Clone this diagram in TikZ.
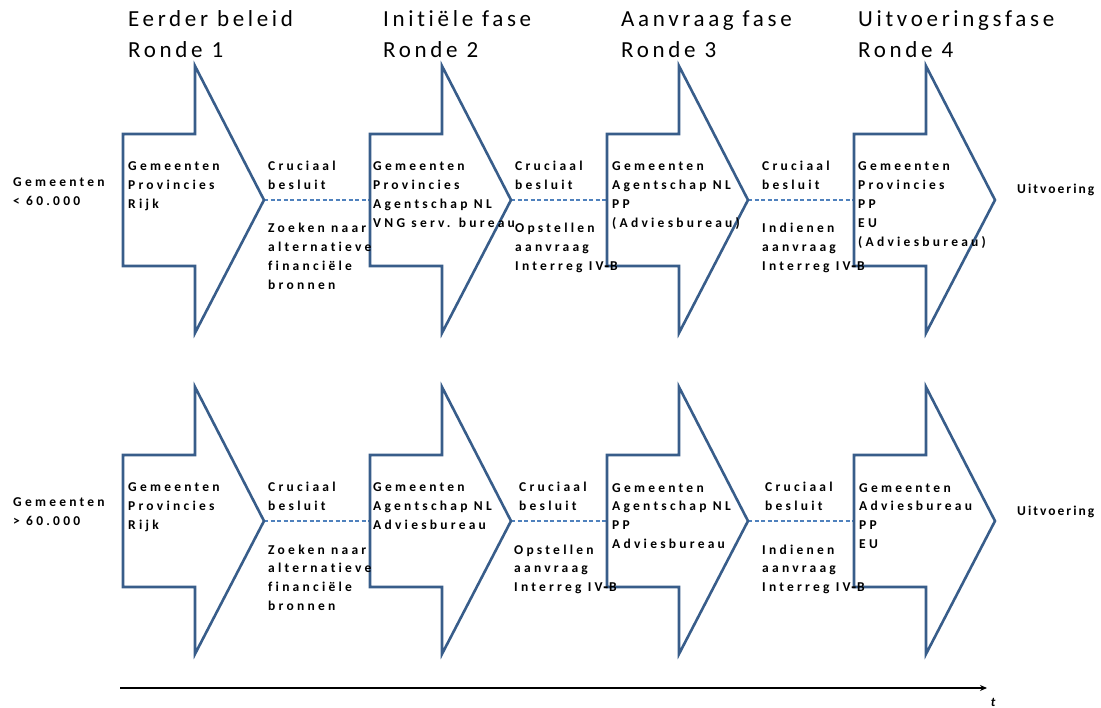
\documentclass[tikz,border=0pt]{standalone}
\usepackage{fontspec}
\setmainfont{Carlito}
\newfontfamily\lblfont[LetterSpace=24,Ligatures=NoCommon]{Carlito}
\newfontfamily\endfont[LetterSpace=15,Ligatures=NoCommon]{Carlito}
\newfontfamily\ttlfont[LetterSpace=16,Ligatures=NoCommon]{Carlito}
\newfontfamily\hyfont{DejaVu Sans}
% a heavier hyphen for "IV-B"
\newcommand\hyph{{\hyfont\bfseries\fontsize{13}{13}\selectfont\kern0.5pt-\kern0.5pt}}
\usetikzlibrary{arrows.meta}

\definecolor{arrowblue}{RGB}{56,93,138}
\definecolor{dashblue}{RGB}{79,129,189}

\tikzset{
  blockarrow/.style={draw=arrowblue, line width=2.6pt, fill=white, line join=miter},
  dashline/.style={draw=dashblue, line width=1.2pt, dash pattern=on 4pt off 2.5pt},
  % anchored at the last baseline; nl=<lines> moves it so that the
  % given point is the first baseline
  lbl/.style={anchor=base west, inner sep=0pt, align=left,
    font=\lblfont\bfseries\fontsize{13.5}{18.8}\selectfont},
  nl/.style={yshift={-(#1-1)*18.8pt}},
  endlbl/.style={anchor=base west, inner sep=0pt,
    font=\endfont\bfseries\fontsize{13.5}{18.8}\selectfont},
  ttl/.style={anchor=base west, inner sep=0pt, align=left, yshift=-31pt,
    font=\ttlfont\fontsize{23}{31}\selectfont},
  timeaxis/.style={draw=black, line width=1.3pt, -{Stealth[length=7pt,width=6pt]}}
}

\begin{document}
\begin{tikzpicture}[x=1pt,y=-1pt]
\useasboundingbox (0,0) rectangle (1101,708);

% phase titles
\node[ttl] (ttl1) at (128,27) {Eerder beleid\\Ronde 1};
\node[ttl] (ttl2) at (383,27) {Initiële fase\\Ronde 2};
\node[ttl] (ttl3) at (621,27) {Aanvraag fase\\Ronde 3};
\node[ttl] (ttl4) at (858,27) {Uitvoeringsfase\\Ronde 4};

% dashed links between the phases (drawn first, arrows cover their ends)
\foreach \r/\yc in {1/200,2/521}{
  \foreach \c/\xl in {1/123,2/370,3/607,4/854}{
    \coordinate (L-\r-\c) at (\xl,\yc);
    \coordinate (T-\r-\c) at (\xl+141,\yc);
  }
  \draw[dashline] (T-\r-1) -- (L-\r-2);
  \draw[dashline] (T-\r-2) -- (L-\r-3);
  \draw[dashline] (T-\r-3) -- (L-\r-4);
}

% block arrows, one per phase and row
\foreach \yc in {200,521}{
  \foreach \xl in {123,370,607,854}{
    \draw[blockarrow] (\xl,\yc-66) -- (\xl+72,\yc-66) -- (\xl+72,\yc-134)
      -- (\xl+141,\yc) -- (\xl+72,\yc+133) -- (\xl+72,\yc+66)
      -- (\xl,\yc+66) -- cycle;
  }
}

% row labels
\node[lbl,nl=2] (row1) at (13,187) {Gemeenten\\< 60.000};
\node[lbl,nl=2] (row2) at (13,507) {Gemeenten\\> 60.000};

% row 1
\node[lbl,nl=3] (a11) at (128,171) {Gemeenten\\Provincies\\Rijk};
\node[lbl,nl=2] (c11) at (268,171) {Cruciaal\\besluit};
\node[lbl,nl=4] (s11) at (268,233) {Zoeken naar\\alternatieve\\financiële\\bronnen};
\node[lbl,nl=4] (a12) at (373,171) {Gemeenten\\Provincies\\Agentschap NL\\VNG serv. bureau};
\node[lbl,nl=2] (c12) at (515,171) {Cruciaal\\besluit};
\node[lbl,nl=3] (s12) at (515,233) {Opstellen\\aanvraag\\Interreg IV\hyph B};
\node[lbl,nl=4] (a13) at (612,171) {Gemeenten\\Agentschap NL\\PP\\(Adviesbureau)};
\node[lbl,nl=2] (c13) at (762,171) {Cruciaal\\besluit};
\node[lbl,nl=3] (s13) at (762,233) {Indienen\\aanvraag\\Interreg IV\hyph B};
\node[lbl,nl=5] (a14) at (858,171) {Gemeenten\\Provincies\\PP\\EU\\(Adviesbureau)};
\node[endlbl] (u1) at (1017,194) {Uitvoering};

% row 2
\node[lbl,nl=3] (a21) at (128,492) {Gemeenten\\Provincies\\Rijk};
\node[lbl,nl=2] (c21) at (268,492) {Cruciaal\\besluit};
\node[lbl,nl=4] (s21) at (268,554) {Zoeken naar\\alternatieve\\financiële\\bronnen};
\node[lbl,nl=3] (a22) at (373,492) {Gemeenten\\Agentschap NL\\Adviesbureau};
\node[lbl,nl=2] (c22) at (519,492) {Cruciaal\\besluit};
\node[lbl,nl=3] (s22) at (514,554) {Opstellen\\aanvraag\\Interreg IV\hyph B};
\node[lbl,nl=4] (a23) at (612,492) {Gemeenten\\Agentschap NL\\PP\\Adviesbureau};
\node[lbl,nl=2] (c23) at (765,492) {Cruciaal\\besluit};
\node[lbl,nl=3] (s23) at (762,554) {Indienen\\aanvraag\\Interreg IV\hyph B};
\node[lbl,nl=4] (a24) at (859,492) {Gemeenten\\Adviesbureau\\PP\\EU};
\node[endlbl] (u2) at (1017,515) {Uitvoering};

% time axis
\coordinate (t0) at (120,688);
\coordinate (t1) at (987,688);
\draw[timeaxis] (t0) -- (t1);
\node[anchor=base, inner sep=0pt, font=\bfseries\itshape\fontsize{13}{15}\selectfont] (tl) at (993,706) {t};
\end{tikzpicture}
\end{document}
